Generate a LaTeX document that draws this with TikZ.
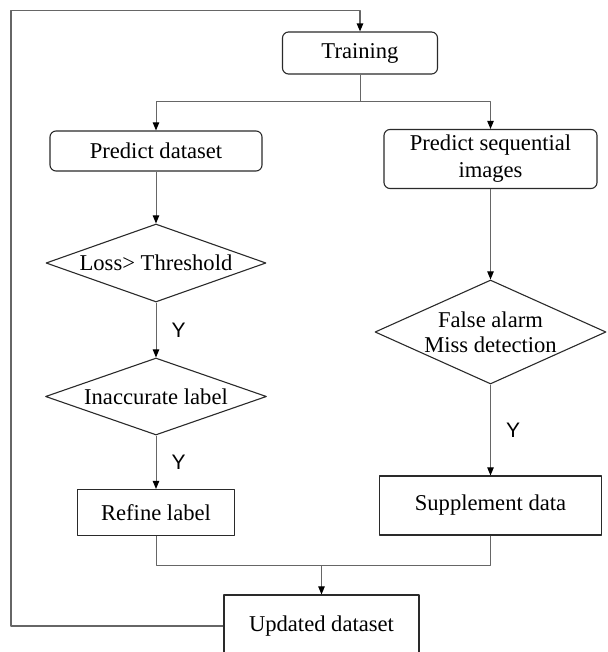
\documentclass[tikz,border=0pt]{standalone}
\usepackage{fontspec}
\setmainfont{Liberation Serif}
\newfontfamily\ylabelfont{Liberation Sans}
\usetikzlibrary{shapes.geometric,arrows.meta}
\definecolor{boxcolor}{HTML}{2A2A2A}
\definecolor{linkcolor}{HTML}{666666}

\begin{document}
\begin{tikzpicture}[x=0.5pt,y=-0.5pt,line join=round,
  every node/.style={font=\fontsize{11.3}{12.5}\selectfont},
  roundbox/.style={draw=boxcolor,line width=0.55pt,rounded corners=3pt,align=center,inner sep=0pt},
  plainbox/.style={draw=boxcolor,line width=0.55pt,align=center,inner sep=0pt},
  decision/.style={diamond,draw=boxcolor,line width=0.55pt,align=center,inner sep=0pt},
  link/.style={draw=linkcolor,line width=0.5pt},
  arrowlink/.style={link,-{Triangle[length=4pt,width=3.2pt,color=black]}},
  ylabel/.style={font=\ylabelfont\fontsize{10.5}{12}\selectfont,inner sep=0pt,midway,xshift=11.3pt}]
  \useasboundingbox (0,0) rectangle (607,652);
  \clip (0,0) rectangle (607,652);
  % boxes
  \node[roundbox,minimum width=77.5pt,minimum height=21pt] (train) at (360,53) {Training};
  \node[roundbox,minimum width=106pt,minimum height=20pt] (pdata) at (156,151) {Predict dataset};
  \node[roundbox,minimum width=106.5pt,minimum height=29.5pt,font=\fontsize{11.3}{13.5}\selectfont] (pseq) at (490.5,159) {Predict sequential\\images};
  \node[decision,minimum width=110pt,minimum height=39pt,aspect=2.82] (loss) at (156,263) {Loss> Threshold};
  \node[decision,minimum width=110.5pt,minimum height=38.5pt,aspect=2.87] (inacc) at (156,396.5) {Inaccurate label};
  \node[decision,minimum width=115.5pt,minimum height=52pt,aspect=2.22] (alarm) at (490.5,332) {False alarm\\Miss detection};
  \node[plainbox,minimum width=78.5pt,minimum height=23pt] (refine) at (156,512.5) {Refine label};
  \node[plainbox,minimum width=111.4pt,minimum height=29.5pt] (supp) at (490.5,505.5) {Supplement data};
  \node[plainbox,minimum width=97.5pt,minimum height=31pt] (upd) at (321.5,626) {Updated dataset};
  % split after training
  \coordinate (split) at (360,102);
  \draw[link] (train.south) -- (split);
  \draw[arrowlink] (split) -| (pdata.north);
  \draw[arrowlink] (split) -| (pseq.north);
  % left branch
  \draw[arrowlink] (pdata) -- (loss);
  \draw[arrowlink] (loss) -- node[ylabel]{Y} (inacc);
  \draw[arrowlink] (inacc) -- node[ylabel]{Y} (refine);
  % right branch
  \draw[arrowlink] (pseq) -- (alarm);
  \draw[arrowlink] (alarm) -- node[ylabel]{Y} (supp);
  % merge
  \coordinate (merge) at (321.5,565);
  \draw[link] (refine.south) |- (merge);
  \draw[link] (supp.south) |- (merge);
  \draw[arrowlink] (merge) -- (upd.north);
  % loop back to training
  \coordinate (loopcorner) at (11,10.7);
  \draw[arrowlink,line width=0.7pt] (upd.west) -| (loopcorner) -| (train.north);
\end{tikzpicture}
\end{document}
